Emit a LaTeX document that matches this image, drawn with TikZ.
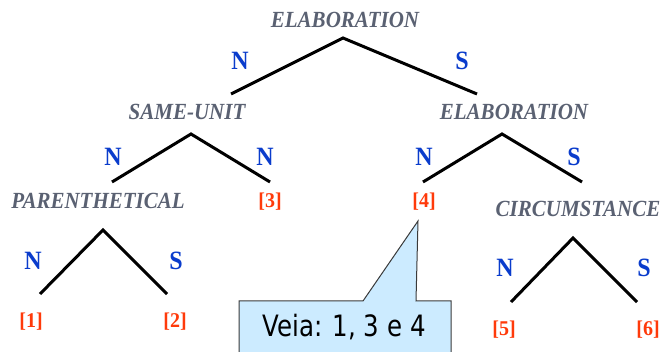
\documentclass[tikz,border=0pt]{standalone}
\usepackage{graphicx}
\usepackage{fontspec}
\setmainfont{Liberation Serif}
\newfontfamily\calloutfont{DejaVu Sans}
\definecolor{relgray}{HTML}{5A6172}
\definecolor{nucblue}{HTML}{0A3CCC}
\definecolor{segred}{HTML}{FF3A0A}
\definecolor{calloutfill}{HTML}{CCEBFF}
\definecolor{calloutline}{HTML}{3A3A3A}
\newcommand\vstretchtxt[2]{\scalebox{1}[#1]{#2}}
\begin{document}
\begin{tikzpicture}[x=1pt,y=-1pt,
  rel/.style={font=\fontsize{21}{21}\selectfont\bfseries\itshape, text=relgray, inner sep=0pt, anchor=center},
  nuc/.style={font=\fontsize{24}{24}\selectfont\bfseries, text=nucblue, inner sep=0pt},
  seg/.style={font=\fontsize{20}{20}\selectfont\bfseries, text=segred, inner sep=0pt},
  branch/.style={line width=3pt, line cap=butt, line join=miter},
  callout/.style={fill=calloutfill, draw=calloutline, line width=1pt}]
\useasboundingbox (0,0) rectangle (664,352);
\clip (0,0) rectangle (664,352);
% relation labels
\node[rel] (r0) at (345,20) {\vstretchtxt{1.1}{ELABORATION}};
\node[rel] (r1) at (187,112) {\vstretchtxt{1.1}{SAME-UNIT}};
\node[rel] (r2) at (514,112) {\vstretchtxt{1.1}{ELABORATION}};
\node[rel] (r3) at (98,201) {\vstretchtxt{1.1}{PARENTHETICAL}};
\node[rel] (r4) at (578,209) {\vstretchtxt{1.1}{CIRCUMSTANCE}};
% segments
\node[seg] (s1) at (31,322) {\vstretchtxt{1.05}{[1]}};
\node[seg] (s2) at (175,322) {\vstretchtxt{1.05}{[2]}};
\node[seg] (s3) at (270,202) {\vstretchtxt{1.05}{[3]}};
\node[seg] (s4) at (424,202) {\vstretchtxt{1.05}{[4]}};
\node[seg] (s5) at (504,330) {\vstretchtxt{1.05}{[5]}};
\node[seg] (s6) at (648,330) {\vstretchtxt{1.05}{[6]}};
% tree apexes and ends
\coordinate (a0) at (343,38);
\coordinate (a0l) at (231,94);
\coordinate (a0r) at (477,94);
\coordinate (a1) at (191,134);
\coordinate (a1l) at (112,182);
\coordinate (a1r) at (270,182);
\coordinate (a2) at (502,134);
\coordinate (a2l) at (423,182);
\coordinate (a2r) at (582,182);
\coordinate (a3) at (103,230);
\coordinate (a3l) at (40,294);
\coordinate (a3r) at (167,294);
\coordinate (a4) at (573,238);
\coordinate (a4l) at (511,302);
\coordinate (a4r) at (637,302);
\draw[branch] (a0l) -- (a0) -- (a0r);
\draw[branch] (a1l) -- (a1) -- (a1r);
\draw[branch] (a2l) -- (a2) -- (a2r);
\draw[branch] (a3l) -- (a3) -- (a3r);
\draw[branch] (a4l) -- (a4) -- (a4r);
% nuclearity labels
\node[nuc] (n0l) at (240,61) {\vstretchtxt{1.1}{N}};
\node[nuc] (n0r) at (462,61) {\vstretchtxt{1.1}{S}};
\node[nuc] (n1l) at (113,157) {\vstretchtxt{1.1}{N}};
\node[nuc] (n1r) at (265,157) {\vstretchtxt{1.1}{N}};
\node[nuc] (n2l) at (424,157) {\vstretchtxt{1.1}{N}};
\node[nuc] (n2r) at (574,157) {\vstretchtxt{1.1}{S}};
\node[nuc] (n3l) at (33,261) {\vstretchtxt{1.1}{N}};
\node[nuc] (n3r) at (176,261) {\vstretchtxt{1.1}{S}};
\node[nuc] (n4l) at (505,268) {\vstretchtxt{1.1}{N}};
\node[nuc] (n4r) at (644,268) {\vstretchtxt{1.1}{S}};
% callout
\coordinate (tip) at (418,221);
\draw[callout] (239,360) -- (239,301) -- (363,301) -- (tip) -- (416,301) -- (451,301) -- (451,360) -- cycle;
\node[font=\calloutfont\fontsize{24.5}{24.5}\selectfont, inner sep=0pt] (veia) at (344,327) {\vstretchtxt{1.2}{Veia: 1, 3 e 4}};
\end{tikzpicture}
\end{document}
